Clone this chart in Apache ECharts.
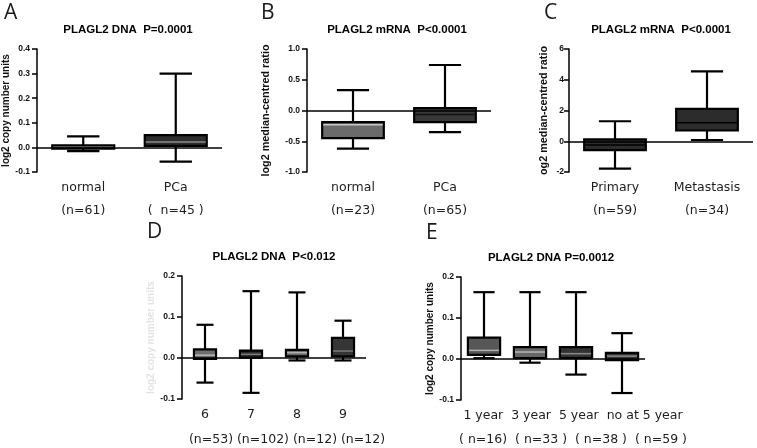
<!DOCTYPE html>
<html>
<head>
<meta charset="utf-8">
<script src="https://cdn.jsdelivr.net/npm/echarts@6/dist/echarts.min.js"></script>
<style>html,body{margin:0;padding:0;background:#fff}#c{width:757px;height:448px}</style>
</head>
<body>
<div id="c"></div>
<script>
// ---------- data ----------
const catsA = ['normal', 'PCa'];
const nA = ['(n=61)', '(  n=45 )'];
const boxA = [[-0.015, -0.005, 0.003, 0.008, 0.045], [-0.058, 0.006, 0.022, 0.05, 0.30]];
const ticksA = [-0.1, 0.0, 0.1, 0.2, 0.3, 0.4];

const catsB = ['normal', 'PCa'];
const nB = ['(n=23)', '(n=65)'];
const boxB = [[-0.62, -0.45, -0.23, -0.19, 0.33], [-0.35, -0.19, -0.065, 0.04, 0.74]];
const ticksB = [-1.0, -0.5, 0.0, 0.5, 1.0];

const catsC = ['Primary', 'Metastasis'];
const nC = ['(n=59)', '(n=34)'];
const boxC = [[-1.78, -0.58, -0.25, 0.12, 1.3], [0.08, 0.7, 1.2, 2.1, 4.55]];
const ticksC = [-2, 0, 2, 4, 6];

const catsD = ['6', '7', '8', '9'];
const nD = ['(n=53)', '(n=102)', '(n=12)', '(n=12)'];
const boxD = [
  [-0.06, -0.002, 0.007, 0.021, 0.081],
  [-0.085, 0.001, 0.009, 0.018, 0.163],
  [-0.006, 0.004, 0.013, 0.02, 0.16],
  [-0.006, 0.004, 0.017, 0.049, 0.091]
];
const ticksD = [-0.1, 0.0, 0.1, 0.2];

const catsE = ['1 year', '3 year', '5 year', 'no at 5 year'];
const nE = ['( n=16)', '( n=33 )', '( n=38 )', '( n=59 )'];
const boxE = [
  [0.002, 0.01, 0.021, 0.052, 0.163],
  [-0.009, 0.002, 0.017, 0.029, 0.163],
  [-0.038, 0.002, 0.013, 0.029, 0.163],
  [-0.083, -0.003, 0.007, 0.015, 0.063]
];
const ticksE = [-0.1, 0.0, 0.1, 0.2];

const titles = ['PLAGL2 DNA  P=0.0001', 'PLAGL2 mRNA  P<0.0001', 'PLAGL2 mRNA  P<0.0001', 'PLAGL2 DNA  P<0.012', 'PLAGL2 DNA P=0.0012'];
const letters = ['A', 'B', 'C', 'D', 'E'];
const yNames = ['log2 copy number units', 'log2 median-centred ratio', 'og2 median-centred ratio', 'log2 copy number units', 'log2 copy number units'];

// ---------- styles ----------
const fillA = ['#262626', '#2e2e2e'], medA = ['#555', '#8a8a8a'];
const fillB = ['#6b6b6b', '#383838'], medB = ['#c8c8c8', '#111'];
const fillC = ['#2c2c2c', '#2c2c2c'], medC = ['#000', '#000'];
const fillD = ['#6e6e6e', '#2c2c2c', '#6a6a6a', '#353535'], medD = ['#b5b5b5', '#7a7a7a', '#b0b0b0', '#7a7a7a'];
const fillE = ['#575757', '#666666', '#333333', '#333333'], medE = ['#b0b0b0', '#b5b5b5', '#8a8a8a', '#8a8a8a'];

const LBL_FONT = 'DejaVu Sans';
const AX_FONT = 'Liberation Sans';

function makeRender(boxFrac, capFrac, fills, meds) {
  return function (params, api) {
    const idx = api.value(0);
    const lo = api.coord([idx, api.value(1)]);
    const q1 = api.coord([idx, api.value(2)]);
    const md = api.coord([idx, api.value(3)]);
    const q3 = api.coord([idx, api.value(4)]);
    const hi = api.coord([idx, api.value(5)]);
    const band = api.size([1, 0])[0];
    const bw = band * boxFrac, cw = band * capFrac;
    const cx = lo[0];
    const ls = { stroke: '#000', lineWidth: 2.2 };
    const i = params.dataIndex;
    return {
      type: 'group',
      children: [
        { type: 'line', shape: { x1: cx, y1: q3[1], x2: cx, y2: hi[1] }, style: ls },
        { type: 'line', shape: { x1: cx, y1: q1[1], x2: cx, y2: lo[1] }, style: ls },
        { type: 'line', shape: { x1: cx - cw / 2, y1: hi[1], x2: cx + cw / 2, y2: hi[1] }, style: ls },
        { type: 'line', shape: { x1: cx - cw / 2, y1: lo[1], x2: cx + cw / 2, y2: lo[1] }, style: ls },
        { type: 'rect', shape: { x: cx - bw / 2, y: q3[1], width: bw, height: q1[1] - q3[1] }, style: { fill: fills[i], stroke: '#000', lineWidth: 2.2 } },
        { type: 'line', shape: { x1: cx - bw / 2 + 1, y1: md[1], x2: cx + bw / 2 - 1, y2: md[1] }, style: { stroke: meds[i], lineWidth: 1.5 } }
      ]
    };
  };
}

const panels = [
  { cats: catsA, n: nA, box: boxA, ticks: ticksA, dec: 1, grid: { left: 37, top: 49, width: 185, height: 123 }, bf: 0.67, cf: 0.35, fills: fillA, meds: medA, nameGap: 25, nameSize: 10, labelMode: 'two' },
  { cats: catsB, n: nB, box: boxB, ticks: ticksB, dec: 1, grid: { left: 307, top: 49, width: 184, height: 123 }, bf: 0.67, cf: 0.35, fills: fillB, meds: medB, nameGap: 35, nameSize: 10.8, labelMode: 'two' },
  { cats: catsC, n: nC, box: boxC, ticks: ticksC, dec: 0, grid: { left: 569, top: 49, width: 184, height: 123 }, bf: 0.67, cf: 0.35, fills: fillC, meds: medC, nameGap: 19, nameSize: 10.8, labelMode: 'two' },
  { cats: catsD, n: nD, box: boxD, ticks: ticksD, dec: 1, grid: { left: 182, top: 276, width: 184, height: 123 }, bf: 0.48, cf: 0.37, fills: fillD, meds: medD, nameGap: 24, nameSize: 10, labelMode: 'one', nameColor: '#e4e4e4' },
  { cats: catsE, n: nE, box: boxE, ticks: ticksE, dec: 1, grid: { left: 461, top: 277, width: 184, height: 123 }, bf: 0.7, cf: 0.46, fills: fillE, meds: medE, nameGap: 25, nameSize: 10, labelMode: 'none' }
];

const grid = [], xAxis = [], yAxis = [], series = [];
panels.forEach((p, k) => {
  grid.push(Object.assign({ outerBoundsMode: 'none', containLabel: false }, p.grid));
  xAxis.push({
    type: 'category', gridIndex: k, data: p.cats, boundaryGap: true,
    axisLine: { show: false }, axisTick: { show: false }, splitLine: { show: false },
    axisLabel: {
      show: p.labelMode !== 'none', interval: 0, hideOverlap: false,
      fontFamily: LBL_FONT, fontSize: 12.5, color: '#1e1e1e',
      lineHeight: p.labelMode === 'two' ? 23 : 16,
      margin: p.labelMode === 'two' ? 4.5 : 8,
      formatter: (v, i) => p.labelMode === 'two' ? v + '\n' + p.n[i] : v
    }
  });
  const t = p.ticks;
  yAxis.push({
    type: 'value', gridIndex: k,
    min: t[0], max: t[t.length - 1], interval: t[1] - t[0],
    axisLine: { show: true, lineStyle: { color: '#000', width: 1.5 } },
    axisTick: { show: true, length: 5, lineStyle: { color: '#000', width: 1.5 } },
    splitLine: { show: false },
    axisLabel: {
      fontFamily: AX_FONT, fontWeight: 'bold', fontSize: 8.5, color: '#111', margin: k === 2 ? 5 : 7,
      formatter: v => Number(v).toFixed(p.dec)
    },
    name: yNames[k], nameLocation: 'middle', nameRotate: 90, nameGap: p.nameGap,
    nameTextStyle: { fontFamily: AX_FONT, fontWeight: 'bold', fontSize: p.nameSize, color: p.nameColor || '#111' }
  });
  series.push({
    type: 'custom', xAxisIndex: k, yAxisIndex: k,
    data: p.box.map((b, i) => [i].concat(b)),
    renderItem: makeRender(p.bf, p.cf, p.fills, p.meds),
    encode: { x: 0, y: [1, 2, 3, 4, 5] },
    animation: false, silent: true, clip: false,
    markLine: {
      silent: true, symbol: 'none', animation: false,
      label: { show: false },
      lineStyle: { color: '#000', width: 1.5, type: 'solid' },
      data: [{ yAxis: 0 }]
    }
  });
});

const titlePos = [[128, 30], [397, 30], [661, 30], [274, 257], [551, 258]];
const letterPos = [[4, 13], [261, 13], [544, 13], [147, 232], [426, 233]];
const graphic = [];
titles.forEach((s, i) => graphic.push({
  type: 'text', x: titlePos[i][0], y: titlePos[i][1], silent: true,
  style: { text: s, fill: '#000', font: 'bold 11.5px "Liberation Sans"', textAlign: 'center', textVerticalAlign: 'middle' }
}));
letters.forEach((s, i) => graphic.push({
  type: 'text', x: letterPos[i][0], y: letterPos[i][1], silent: true,
  style: { text: s, fill: '#1a1a1a', font: '21px "Open Sans"', textAlign: 'left', textVerticalAlign: 'middle' }
}));
// rows under panels D and E
graphic.push({ type: 'text', x: 287, y: 440, silent: true,
  style: { text: nD.join(' '), fill: '#1e1e1e', font: '12.5px "DejaVu Sans"', textAlign: 'center', textVerticalAlign: 'middle' } });
graphic.push({ type: 'text', x: 573, y: 416, silent: true,
  style: { text: catsE.join('  '), fill: '#1e1e1e', font: '12.5px "DejaVu Sans"', textAlign: 'center', textVerticalAlign: 'middle' } });
graphic.push({ type: 'text', x: 573, y: 440, silent: true,
  style: { text: nE.join('  '), fill: '#1e1e1e', font: '12.5px "DejaVu Sans"', textAlign: 'center', textVerticalAlign: 'middle' } });

const chart = echarts.init(document.getElementById('c'), null, { renderer: 'canvas' });
chart.setOption({
  animation: false,
  backgroundColor: '#fff',
  grid, xAxis, yAxis, series, graphic
});
</script>
</body>
</html>
